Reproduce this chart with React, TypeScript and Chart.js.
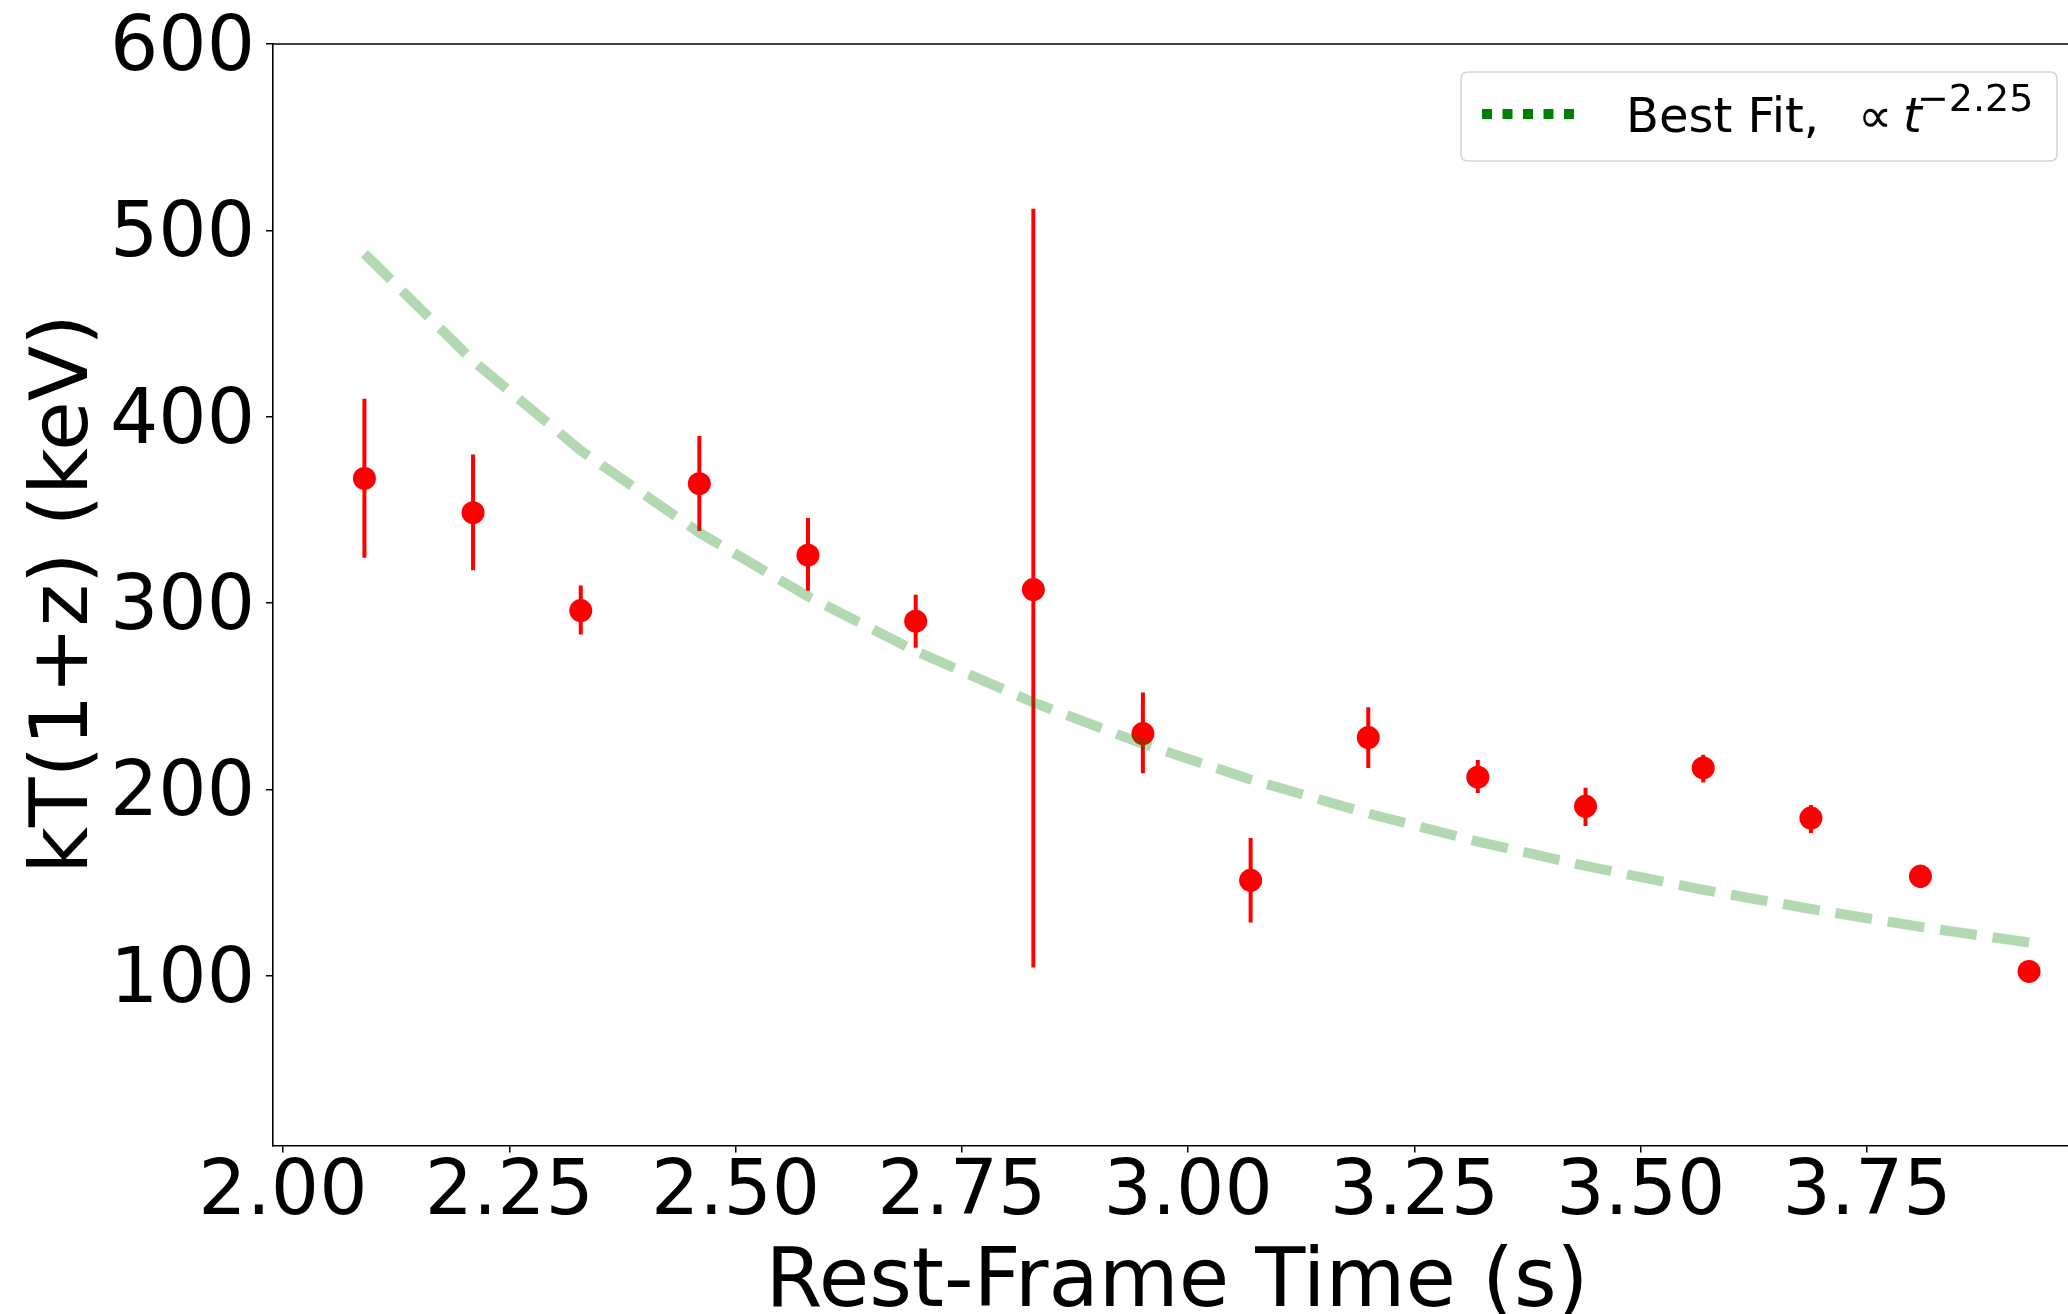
import React, { useEffect, useRef } from "react";
import { Chart, registerables } from "chart.js";

Chart.register(...registerables);

// ---- Data ----
const times = [2.090, 2.210, 2.329, 2.460, 2.580, 2.699, 2.829, 2.950, 3.069, 3.199, 3.320, 3.439, 3.569, 3.688, 3.809, 3.929];
const kT = [366.9, 348.5, 296.0, 364.1, 325.7, 290.3, 307.3, 230.0, 151.3, 227.9, 206.6, 191.0, 211.6, 184.7, 153.4, 102.4];
const kTUpper = [409.7, 379.7, 309.5, 389.7, 345.7, 304.5, 511.6, 252.0, 174.0, 244.2, 215.8, 201.0, 218.7, 191.7, 159.7, 102.4];
const kTLower = [324.4, 317.7, 283.2, 338.7, 306.7, 276.1, 104.5, 208.7, 128.6, 211.6, 198.1, 180.4, 203.7, 176.7, 147.1, 102.4];
const fitValues = [487.5, 430.0, 381.9, 337.8, 303.6, 274.3, 246.7, 224.5, 205.4, 187.1, 172.1, 159.0, 146.2, 135.9, 126.3, 117.9];

const xTicks = [2.0, 2.25, 2.5, 2.75, 3.0, 3.25, 3.5, 3.75];
const yTicks = [100, 200, 300, 400, 500, 600];

const xTitle = "Rest-Frame Time (s)";
const yTitle = "kT(1+z) (keV)";
const legendLabel = "Best Fit,";

const FONT = "'DejaVu Sans', sans-serif";
const W = 2068;
const H = 1314;

const errorBarPlugin = {
  id: "errorBars",
  beforeDatasetsDraw(chart: any) {
    const { ctx, chartArea, scales } = chart;
    const xs = scales.x;
    const ys = scales.y;
    ctx.save();
    ctx.beginPath();
    ctx.rect(chartArea.left, chartArea.top, chartArea.right - chartArea.left, chartArea.bottom - chartArea.top);
    ctx.clip();
    ctx.strokeStyle = "#ff0000";
    ctx.lineWidth = 4;
    ctx.lineCap = "butt";
    for (let i = 0; i < times.length; i++) {
      const x = xs.getPixelForValue(times[i]);
      const y1 = ys.getPixelForValue(kTUpper[i]);
      const y2 = ys.getPixelForValue(kTLower[i]);
      if (Math.abs(y2 - y1) < 0.5) continue;
      ctx.beginPath();
      ctx.moveTo(x, y1);
      ctx.lineTo(x, y2);
      ctx.stroke();
    }
    ctx.restore();
  },
};

const decorPlugin = {
  id: "decor",
  afterDraw(chart: any) {
    const { ctx, chartArea } = chart;
    ctx.save();
    // top spine
    ctx.strokeStyle = "#000";
    ctx.lineWidth = 1.6;
    ctx.beginPath();
    ctx.moveTo(chartArea.left, chartArea.top);
    ctx.lineTo(W, chartArea.top);
    ctx.stroke();

    // axis titles
    ctx.fillStyle = "#000";
    ctx.textAlign = "center";
    ctx.textBaseline = "alphabetic";
    ctx.font = `82px ${FONT}`;
    ctx.fillText(xTitle, 1177, 1306);

    ctx.font = `81px ${FONT}`;
    ctx.save();
    ctx.translate(87, 594);
    ctx.rotate(-Math.PI / 2);
    ctx.fillText(yTitle, 0, 0);
    ctx.restore();

    // legend
    const bx = 1461, by = 72, bw = 596, bh = 89, r = 7;
    ctx.beginPath();
    ctx.moveTo(bx + r, by);
    ctx.lineTo(bx + bw - r, by);
    ctx.quadraticCurveTo(bx + bw, by, bx + bw, by + r);
    ctx.lineTo(bx + bw, by + bh - r);
    ctx.quadraticCurveTo(bx + bw, by + bh, bx + bw - r, by + bh);
    ctx.lineTo(bx + r, by + bh);
    ctx.quadraticCurveTo(bx, by + bh, bx, by + bh - r);
    ctx.lineTo(bx, by + r);
    ctx.quadraticCurveTo(bx, by, bx + r, by);
    ctx.closePath();
    ctx.fillStyle = "rgba(255,255,255,0.8)";
    ctx.fill();
    ctx.strokeStyle = "#d6d6d6";
    ctx.lineWidth = 1.6;
    ctx.stroke();

    // dotted sample
    ctx.strokeStyle = "#008000";
    ctx.lineWidth = 10;
    ctx.setLineDash([10, 10.5]);
    ctx.lineCap = "butt";
    ctx.beginPath();
    ctx.moveTo(1482, 114);
    ctx.lineTo(1576, 114);
    ctx.stroke();
    ctx.setLineDash([]);

    // legend text
    ctx.fillStyle = "#000";
    ctx.textAlign = "left";
    ctx.textBaseline = "alphabetic";
    ctx.font = `48px ${FONT}`;
    ctx.fillText(legendLabel, 1626, 132);
    ctx.fillText("\u221D", 1858, 132);
    ctx.font = `italic 48px ${FONT}`;
    ctx.fillText("t", 1903, 132);
    ctx.font = `38px ${FONT}`;
    ctx.fillText("\u22122.25", 1917, 111);
    ctx.restore();
  },
};

export default function App() {
  const ref = useRef<HTMLCanvasElement | null>(null);

  useEffect(() => {
    document.body.style.margin = "0";
    const canvas = ref.current;
    if (!canvas) return;
    const chart = new Chart(canvas, {
      type: "scatter",
      data: {
        datasets: [
          {
            label: "fit",
            type: "line",
            data: times.map((t, i) => ({ x: t, y: fitValues[i] })),
            borderColor: "rgba(0,128,0,0.3)",
            borderWidth: 10,
            borderDash: [37, 16],
            borderCapStyle: "butt",
            pointRadius: 0,
            fill: false,
            tension: 0,
            order: 1,
          } as any,
          {
            label: "data",
            data: times.map((t, i) => ({ x: t, y: kT[i] })),
            backgroundColor: "#ff0000",
            borderWidth: 0,
            pointRadius: 11.5,
            pointHoverRadius: 11.5,
            order: 2,
          },
        ],
      },
      options: {
        animation: false,
        responsive: false,
        devicePixelRatio: 1,
        layout: { autoPadding: false, padding: { top: 44, left: 0, right: 0, bottom: 0 } },
        plugins: { legend: { display: false }, tooltip: { enabled: false } },
        events: [],
        scales: {
          x: {
            type: "linear",
            min: 1.989,
            max: 3.972,
            afterBuildTicks: (s: any) => {
              s.ticks = xTicks.map((v) => ({ value: v }));
            },
            afterFit: (s: any) => {
              s.height = H - 1145.5;
              s.paddingLeft = 0;
              s.paddingRight = 0;
            },
            grid: {
              display: true,
              drawOnChartArea: false,
              drawTicks: true,
              tickLength: 7,
              tickColor: "#000",
              lineWidth: 1.5,
            },
            border: { display: true, color: "#000", width: 1.6 },
            ticks: {
              font: { family: FONT, size: 76, lineHeight: 1 },
              color: "#000",
              padding: 4,
              maxRotation: 0,
              autoSkip: false,
              callback: (v: any) => Number(v).toFixed(2),
            },
          },
          y: {
            type: "linear",
            min: 9,
            max: 600,
            afterBuildTicks: (s: any) => {
              s.ticks = yTicks.map((v) => ({ value: v }));
            },
            afterFit: (s: any) => {
              s.width = 273;
              s.paddingTop = 0;
              s.paddingBottom = 0;
            },
            grid: {
              display: true,
              drawOnChartArea: false,
              drawTicks: true,
              tickLength: 7,
              tickColor: "#000",
              lineWidth: 1.5,
            },
            border: { display: true, color: "#000", width: 1.6 },
            ticks: {
              font: { family: FONT, size: 76, lineHeight: 1 },
              color: "#000",
              padding: 11,
              labelOffset: 6,
              autoSkip: false,
              callback: (v: any) => String(v),
            },
          },
        },
      },
      plugins: [errorBarPlugin, decorPlugin],
    } as any);
    return () => chart.destroy();
  }, []);

  return (
    <div style={{ width: W, height: H, background: "#fff" }}>
      <canvas ref={ref} width={W} height={H} style={{ width: W, height: H, display: "block" }} />
    </div>
  );
}
